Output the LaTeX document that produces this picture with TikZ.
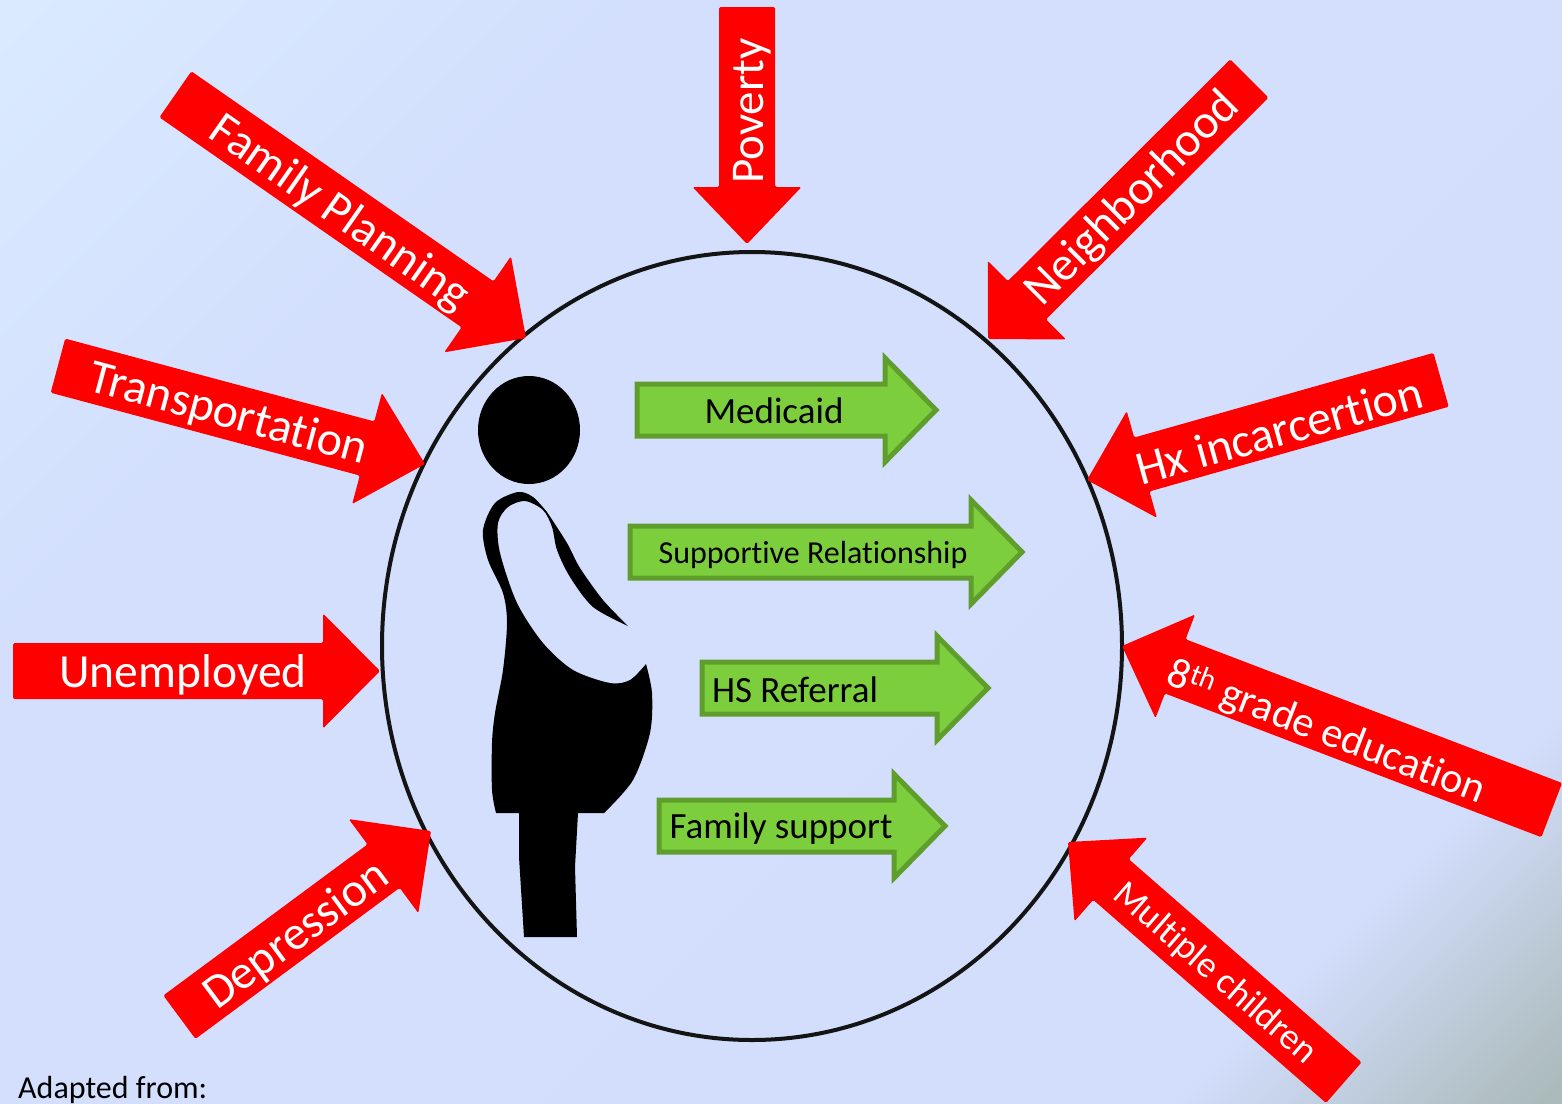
\documentclass[tikz,border=0pt]{standalone}
\usepackage{fontspec}
\setmainfont[Ligatures={NoCommon}]{Carlito}
\pgfdeclareverticalshading{bgshade}{100bp}{rgb(0bp)=(0.67,0.73,0.73); rgb(15bp)=(0.67,0.73,0.73); rgb(25bp)=(0.827,0.871,0.992); rgb(68bp)=(0.827,0.875,0.992); rgb(85bp)=(0.855,0.918,1); rgb(100bp)=(0.855,0.918,1)}
\definecolor{greenfill}{HTML}{7DCE3C}
\definecolor{greenline}{HTML}{5F9E2C}
\tikzset{
  redarrow/.style={fill=red,rounded corners=1.5pt},
  greenarrow/.style={fill=greenfill,draw=greenline,line width=5pt,miter limit=10},
  redlabel/.style={text=white,inner sep=0pt,font=\fontsize{#1}{#1}\selectfont},
  greenlabel/.style={text=black,inner sep=0pt,font=\fontsize{#1}{#1}\selectfont},
}
% style, tip, direction, length, half shaft, half head, head length
\newcommand{\blockarrow}[7]{\path[#1,shift={#2},rotate=#3] (0,0) -- (-#7,#6) -- (-#7,#5) -- (-#4,#5) -- (-#4,-#5) -- (-#7,-#5) -- (-#7,-#6) -- cycle ;}
\begin{document}
\begin{tikzpicture}[x=1pt,y=-1pt]
  \useasboundingbox (0,0) rectangle (1562,1103) ;
  \shade[shading=bgshade,shading angle=45] (0,0) rectangle (1562,1103) ;
  %
  \draw[color=black!92,line width=4pt] (752,646) ellipse (370 and 394) ;
  % outside arrows
  \blockarrow{redarrow}{(747,244)}{-90}{237}{28}{54.5}{57}
  \blockarrow{redarrow}{(526,338)}{-34.8}{427}{28}{58.5}{59}
  \blockarrow{redarrow}{(988,339)}{-135.1}{369}{27}{55.5}{55}
  \blockarrow{redarrow}{(425,464)}{-15}{380}{28}{57.5}{60}
  \blockarrow{redarrow}{(1087,480)}{-164.2}{368}{28}{55.5}{57}
  \blockarrow{redarrow}{(380,671)}{0}{367}{28}{57.5}{57}
  \blockarrow{redarrow}{(1122,646)}{159.1}{460}{29}{55.5}{57}
  \blockarrow{redarrow}{(431,831)}{36.5}{313}{27}{58.5}{59}
  \blockarrow{redarrow}{(1068,842)}{138.9}{366}{27}{55.5}{57}
  \node[redlabel=47,rotate=90] (poverty) at (752,111) {Poverty} ;
  \node[redlabel=48,rotate=-35] (family) at (339,214) {Family Planning} ;
  \node[redlabel=48,rotate=45] (neighborhood) at (1133,199) {Neighborhood} ;
  \node[redlabel=48,rotate=-15] (transportation) at (228,415) {Transportation} ;
  \node[redlabel=48,rotate=15.5] (incarceration) at (1279,430) {Hx incarcertion} ;
  \node[redlabel=47.5,rotate=0] (unemployed) at (183,675) {Unemployed} ;
  \node[redlabel=42.5,rotate=-21] (grade) at (1326,733) {8\textsuperscript{th} grade education} ;
  \node[redlabel=48,rotate=36.5] (depression) at (297,936) {Depression} ;
  \node[redlabel=37,rotate=-41] (children) at (1215,974) {Multiple children} ;
  % inside arrows
  \blockarrow{greenarrow}{(936,410)}{0}{299}{26}{52}{51}
  \blockarrow{greenarrow}{(1022,552)}{0}{392}{26}{52}{51}
  \blockarrow{greenarrow}{(988,688)}{0}{286}{26}{52}{51}
  \blockarrow{greenarrow}{(945,826)}{0}{286}{26}{52}{51}
  \node[greenlabel=37] (medicaid) at (774,411) {Medicaid} ;
  \node[greenlabel=32] (supportive) at (813,555) {Supportive Relationship} ;
  \node[greenlabel=37] (referral) at (795,690) {HS Referral} ;
  \node[greenlabel=37] (support) at (781,829) {Family support} ;
  % woman
  \fill[color=black] (529,430) ellipse (51 and 54) ;
  \fill[color=black] plot[smooth] coordinates {(547,512) (533,497) (518,492) (495,503) (483,530) (488,560) (503,593) (507,623) (503,670) (495,713) (492,743) (492,790) (496,813)}
     -- (519,813) -- (519,857) -- (524,937) -- (577,937) -- (575,867) -- (578,813) -- (604,813)
     -- plot[smooth] coordinates {(604,813) (633,780) (650,733) (652,693) (646,664)}
     -- plot[smooth] coordinates {(646,664) (630,680) (610,683) (573,670) (543,643) (517,603) (500,553) (498,523) (508,507) (525,501) (543,510) (552,527) (557,550) (570,577) (593,607) (628,626)}
     -- plot[smooth] coordinates {(628,626) (603,600) (580,568) (567,543) (547,512)} -- cycle ;
  \node[text=black,inner sep=0pt,anchor=west,font=\fontsize{32}{32}\selectfont] (adapted) at (18,1090) {Adapted from:} ;
\end{tikzpicture}
\end{document}
